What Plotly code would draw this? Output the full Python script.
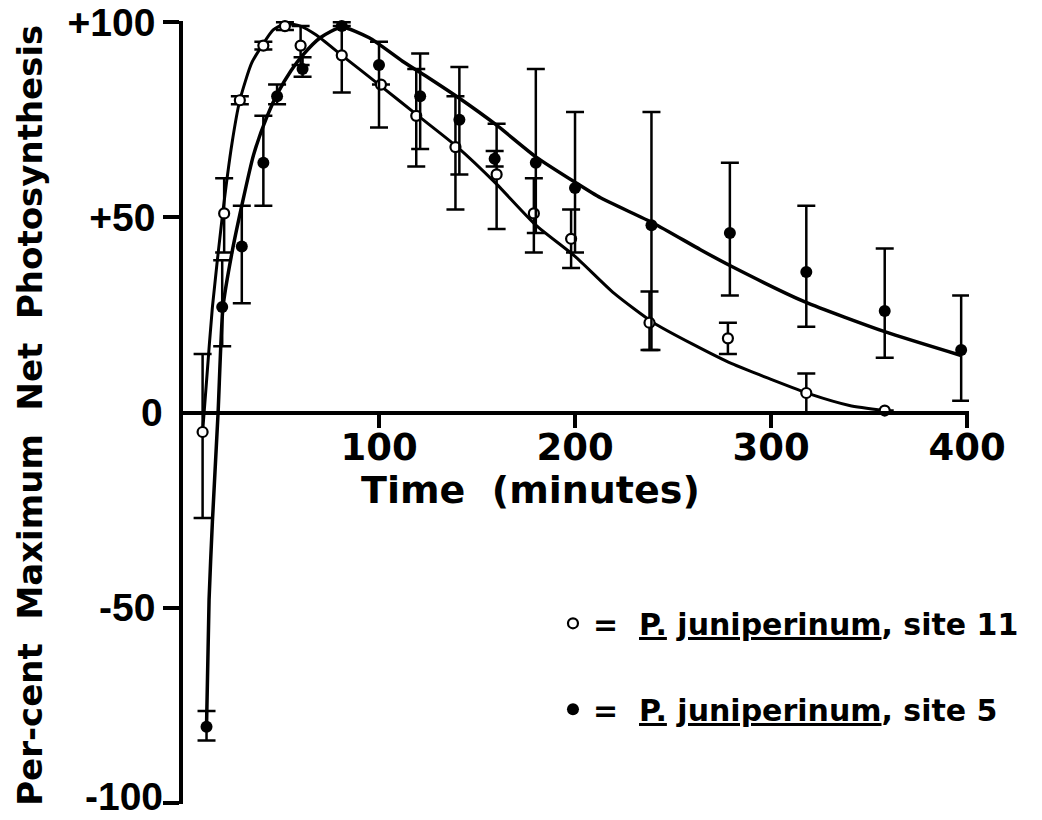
import plotly.graph_objects as go

# ---- data ----
# site 11 (open circles)
t11 = [10, 21, 29, 41, 52, 60, 81, 101, 119, 139, 160, 179, 198, 238, 278, 318, 358]
y11 = [-5, 51, 80, 94, 99, 94, 91.5, 84, 76, 68, 61, 51, 44.5, 23, 19, 5, 0.5]
hi11 = [15, 60, 81, 95, 100, 99, 100, None, 88, 81, 74, 60, 52, 31, 23, 10, None]
lo11 = [-27, 41, 79, 93, 98, 89, 82, None, 63, 52, 47, 41, 37, 16, 15, 0, None]

# site 5 (filled circles)
t5 = [12, 20, 30, 41, 48, 61, 81, 100, 121, 141, 159, 180, 200, 239, 279, 318, 358, 397]
y5 = [-80.5, 27, 42.5, 64, 81, 88, 99, 89, 81, 75, 65, 64, 57.5, 48, 46, 36, 26, 16]
hi5 = [-76.5, 39, 53, 76, 84, 91, None, 95, 92, 88.5, 67, 88, 77, 77, 64, 53, 42, 30]
lo5 = [-84, 17, 28, 53, 79, 86, None, 73, 67.5, 61, 63, 46, 41, 16, 30, 22, 14, 3]

# fitted curves
ct11 = [10, 12, 15, 20, 25, 29, 35, 41, 46, 52, 60, 68, 81, 100, 120, 140, 160, 180,
        200, 220, 240, 260, 280, 300, 320, 340, 358]
cy11 = [-5, 8, 27, 50, 69, 80, 89.5, 94.5, 98, 99.6, 99, 96.7, 91.5, 84, 76, 68, 58.5, 48,
        40, 30.5, 23, 17.5, 12.5, 8.5, 4.7, 1.8, 0.5]

ct5 = [12, 13.3, 15, 17.9, 20.4, 25, 30, 36, 43, 48.5, 55, 61, 70, 81, 95, 112, 126, 141,
       160, 180, 200, 213, 240, 264, 280, 317, 358, 397]
cy5 = [-80.5, -48, -28, 0, 27, 41, 53, 66, 76, 82, 87.5, 91.5, 96, 98.7, 96, 90, 85.5, 80.5,
       73.6, 65.5, 59, 55, 48.5, 41.7, 37.4, 28.4, 20.7, 14.6]

xticks = [100, 200, 300, 400]
yticks = [-100, -50, 50, 100]
yticklabels = ["", "-50", "+50", "+100"]
ybottom_label = "-100"
yzero_label = "0"

name11 = "=  <u>P.</u> <u>juniperinum</u>, site 11"
name5 = "=  <u>P.</u> <u>juniperinum</u>, site 5"
xtitle = "Time&nbsp;&nbsp;(minutes)"
ytitle = "Per-cent&nbsp;&nbsp;Maximum&nbsp;&nbsp;Net&nbsp;&nbsp;Photosynthesis"


def errs(y, hi, lo):
    plus, minus = [], []
    for v, h, l in zip(y, hi, lo):
        plus.append(None if h is None else h - v)
        minus.append(None if l is None else v - l)
    return plus, minus


FONT = "DejaVu Sans"
YFONT = "Liberation Sans"
fig = go.Figure()

fig.add_trace(go.Scatter(x=ct11, y=cy11, mode="lines", line=dict(color="black", width=3, shape="spline", smoothing=0.6),
                         showlegend=False, hoverinfo="skip", cliponaxis=False))
fig.add_trace(go.Scatter(x=ct5, y=cy5, mode="lines", line=dict(color="black", width=3.5, shape="spline", smoothing=0.6),
                         showlegend=False, hoverinfo="skip", cliponaxis=False))

p11, m11 = errs(y11, hi11, lo11)
p5, m5 = errs(y5, hi5, lo5)

fig.add_trace(go.Scatter(
    x=t11, y=y11, mode="markers", name=name11, legendgroup="a",
    marker=dict(symbol="circle", size=10, color="white", line=dict(color="black", width=2.2)),
    error_y=dict(type="data", symmetric=False, array=p11, arrayminus=m11,
                 thickness=2.5, width=9, color="black"),
    cliponaxis=False))
fig.add_trace(go.Scatter(
    x=t5, y=y5, mode="markers", name=name5, legendgroup="b",
    marker=dict(symbol="circle", size=12, color="black"),
    error_y=dict(type="data", symmetric=False, array=p5, arrayminus=m5,
                 thickness=2.5, width=9, color="black"),
    cliponaxis=False))

fig.update_layout(
    width=1042, height=820,
    margin=dict(l=183, r=73, t=21, b=16, autoexpand=False),
    plot_bgcolor="white", paper_bgcolor="white",
    font=dict(family=FONT, color="black"),
    showlegend=True,
    legend=dict(x=0.4707, y=0.264, xanchor="left", yanchor="top",
                font=dict(family=FONT, size=30, color="black", weight="bold"),
                traceorder="grouped", tracegroupgap=44,
                bgcolor="rgba(0,0,0,0)", borderwidth=0),
    xaxis=dict(range=[0, 401], anchor="free", position=0.5, automargin=False,
               showline=True, linecolor="black", linewidth=3.5,
               ticks="outside", ticklen=14, tickwidth=3.5, tickcolor="black",
               tickmode="array", tickvals=xticks, ticklabelstandoff=-13,
               tickfont=dict(family=FONT, size=37, color="black", weight="bold"),
               showgrid=False, zeroline=False),
    yaxis=dict(range=[-100.3, 100.3], automargin=False,
               showline=True, linecolor="black", linewidth=3.5,
               ticks="outside", ticklen=16, tickwidth=3.5, tickcolor="black",
               tickmode="array", tickvals=yticks, ticktext=yticklabels,
               tickfont=dict(family=YFONT, size=39, color="black", weight="bold"),
               showgrid=False, zeroline=False),
)

fig.add_annotation(x=0, xref="paper", y=0, yref="y", xanchor="right", yanchor="middle",
                   xshift=-18, text=yzero_label, showarrow=False,
                   font=dict(family=YFONT, size=39, color="black", weight="bold"))
fig.add_annotation(x=0, xref="paper", y=-100, yref="y", xanchor="right", yanchor="bottom",
                   xshift=-18, yshift=-17, text=ybottom_label, showarrow=False,
                   font=dict(family=YFONT, size=39, color="black", weight="bold"))
fig.add_annotation(x=0.4427, xref="paper", y=0.401, yref="paper", xanchor="center", yanchor="middle",
                   text=xtitle, showarrow=False,
                   font=dict(family=FONT, size=38, color="black", weight="bold"))
fig.add_annotation(x=-0.1947, xref="paper", y=0.497, yref="paper", xanchor="center", yanchor="middle",
                   text=ytitle, textangle=-90, showarrow=False,
                   font=dict(family=FONT, size=34, color="black", weight="bold"))

fig.write_html("out.html")
